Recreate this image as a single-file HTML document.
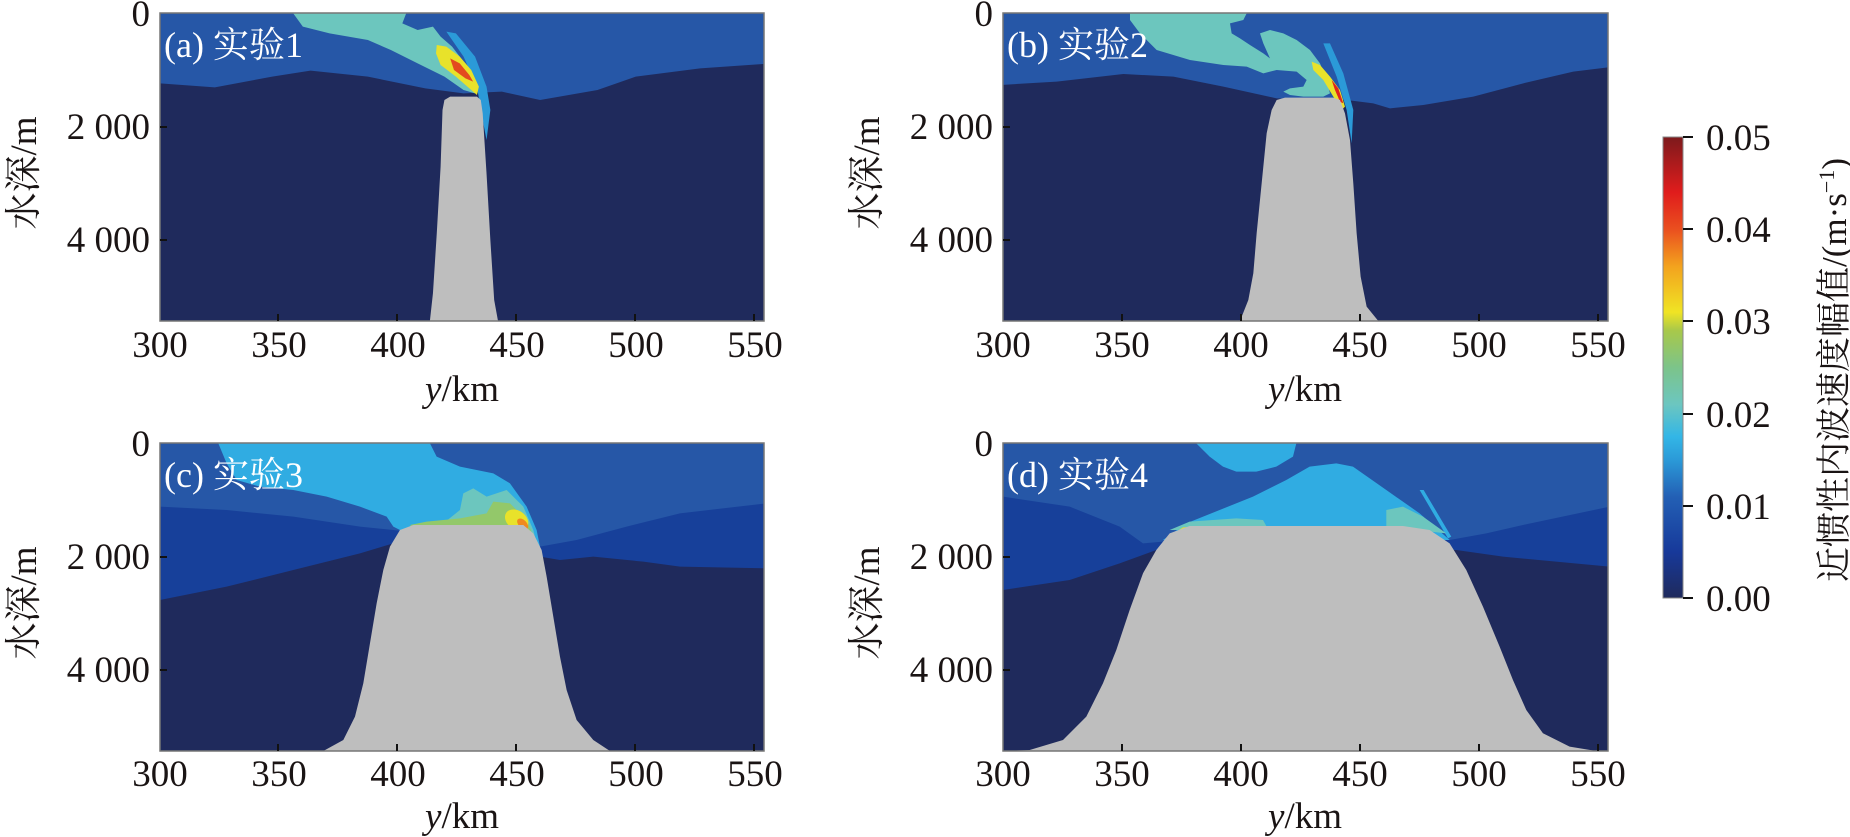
<!DOCTYPE html>
<html><head><meta charset="utf-8">
<style>
html,body{margin:0;padding:0;background:#fff;}
svg{display:block;}
text{font-family:"Liberation Serif","Noto Serif CJK SC","Noto Sans CJK SC",serif;fill:#1a1414;}
.t{font-size:37px;}
.lab{font-size:36px;fill:#fff;}
</style></head>
<body>
<svg width="1850" height="837" viewBox="0 0 1850 837" xmlns="http://www.w3.org/2000/svg">
<defs>
<linearGradient id="cb" x1="0" y1="1" x2="0" y2="0">
<stop offset="0" stop-color="#1f2a5c"/>
<stop offset="0.1" stop-color="#17399a"/>
<stop offset="0.22" stop-color="#2360b5"/>
<stop offset="0.3" stop-color="#2b9ad8"/>
<stop offset="0.35" stop-color="#33b6e6"/>
<stop offset="0.42" stop-color="#6cc6c0"/>
<stop offset="0.5" stop-color="#7cc48a"/>
<stop offset="0.58" stop-color="#a8c84a"/>
<stop offset="0.62" stop-color="#f0e424"/>
<stop offset="0.72" stop-color="#f3a21e"/>
<stop offset="0.8" stop-color="#ea4f1f"/>
<stop offset="0.88" stop-color="#e01c1c"/>
<stop offset="1" stop-color="#7d1a1c"/>
</linearGradient>
<clipPath id="ca"><rect x="160" y="13" width="604" height="308"/></clipPath>
<clipPath id="cbp"><rect x="1003" y="13" width="605" height="308"/></clipPath>
<clipPath id="cc"><rect x="160" y="443" width="604" height="308"/></clipPath>
<clipPath id="cd"><rect x="1003" y="443" width="605" height="308"/></clipPath>
</defs>

<!-- Panel a -->
<g clip-path="url(#ca)">
<rect x="160" y="13" width="604" height="308" fill="#1f2a5c"/>
<g transform="translate(100,0) scale(0.3827,0.3333)">
<polygon fill="#2657a7" points="157,0 1800,0 1800,190 1735,192 1568,205 1400,230 1300,270 1150,300 1050,275 950,280 850,265 700,230 550,212 450,230 300,262 157,250"/>
<polygon fill="#6cc6be" points="505,40 800,40 790,70 830,90 870,80 890,110 920,140 960,200 990,260 980,280 950,270 900,230 830,190 760,150 700,120 600,100 530,80"/>
<polygon fill="#2b9ad8" points="905,95 930,100 980,170 1010,260 1020,330 1010,420 995,330 985,260 950,170"/>
<polygon fill="#e8e22a" points="880,135 905,140 940,170 970,210 990,260 985,285 960,260 930,230 890,195 878,160"/>
<polygon fill="#e34b1f" points="915,175 940,190 965,225 975,245 955,235 925,210"/>
<polygon fill="#bebebe" points="862,963 870,880 880,700 890,500 895,330 900,300 915,290 985,290 995,300 1000,340 1010,520 1020,720 1030,900 1040,963"/>
</g>
</g>

<!-- Panel b -->
<g clip-path="url(#cbp)">
<rect x="1003" y="13" width="605" height="308" fill="#1f2a5c"/>
<g transform="translate(1090,0) scale(0.3333)">
<polygon fill="#2657a7" points="-270,0 1570,0 1570,200 1450,215 1300,250 1150,290 1000,315 900,325 850,310 770,300 560,295 400,260 250,230 100,222 -100,245 -270,255"/>
<polygon fill="#6cc6be" points="120,40 470,40 460,60 420,70 425,100 450,115 480,135 520,160 540,175 520,130 510,100 540,90 580,100 620,120 660,150 690,190 710,240 720,280 700,290 640,290 600,285 580,275 600,265 640,260 650,240 620,215 560,210 520,220 470,200 400,195 300,180 200,150 150,100 120,60"/>
<polygon fill="#2b9ad8" points="700,130 720,130 760,220 790,330 785,430 770,330 740,230"/>
<polygon fill="#e8e22a" points="665,185 690,195 720,230 750,270 765,320 755,330 730,290 700,240 670,210"/>
<polygon fill="#e0231c" points="725,240 745,265 760,310 750,305 735,270"/>
<polygon fill="#bebebe" points="450,963 475,900 490,820 500,700 515,550 530,400 545,330 560,300 585,293 730,293 750,300 765,340 780,420 790,550 800,700 812,830 830,920 865,963"/>
</g>
</g>

<!-- Panel c -->
<g clip-path="url(#cc)">
<rect x="160" y="443" width="604" height="308" fill="#1f2a5c"/>
<g transform="translate(160,430) scale(0.3333)">
<polygon fill="#17409a" points="0,0 1820,0 1820,415 1560,410 1450,395 1300,380 1200,390 1140,380 700,340 600,370 400,420 200,470 0,510"/>
<polygon fill="#2657a7" points="0,0 1820,0 1820,220 1560,250 1400,290 1250,330 1140,350 700,300 600,290 400,260 200,240 0,230"/>
<polygon fill="#30ace2" points="175,40 810,40 830,80 900,110 1000,130 1050,160 1100,230 1130,300 1140,350 720,300 700,290 680,260 600,230 500,200 400,180 300,170 230,150 200,100"/>
<polygon fill="#6cc6be" points="760,290 850,280 900,240 910,190 940,175 980,200 1040,180 1090,230 1120,300 1130,340 1100,300"/>
<polygon fill="#93c86a" points="750,285 800,275 900,265 980,250 1000,215 1050,220 1100,270 1125,330 1100,300 1000,285 900,285 760,293"/>
<ellipse cx="1070" cy="270" rx="38" ry="28" fill="#e8e22a" transform="rotate(35 1070 270)"/>
<ellipse cx="1088" cy="282" rx="20" ry="12" fill="#f08a1e" transform="rotate(45 1088 282)"/>
<polygon fill="#bebebe" points="490,963 550,930 585,860 610,760 630,640 650,520 670,420 690,350 720,300 760,285 1090,285 1120,310 1145,360 1160,440 1180,560 1200,680 1220,780 1250,870 1300,930 1350,963"/>
</g>
</g>

<!-- Panel d -->
<g clip-path="url(#cd)">
<rect x="1003" y="443" width="605" height="308" fill="#1f2a5c"/>
<g transform="translate(1003,430) scale(0.3333)">
<polygon fill="#17409a" points="0,0 1820,0 1820,410 1500,380 1360,360 460,360 350,400 200,450 0,480"/>
<polygon fill="#2657a7" points="0,0 1820,0 1820,230 1560,285 1450,310 1340,330 480,335 420,340 350,290 200,230 0,200"/>
<polygon fill="#30ace2" points="580,40 880,40 870,80 820,110 760,125 700,125 660,110 620,80"/>
<polygon fill="#30ace2" points="480,330 550,280 650,240 750,200 850,150 920,110 1000,100 1050,110 1150,180 1250,250 1340,330"/>
<polygon fill="#30ace2" points="1250,180 1262,180 1345,320 1335,325"/>
<polygon fill="#6cc6be" points="500,300 560,275 700,265 780,270 790,288 520,300"/>
<polygon fill="#6cc6be" points="1150,240 1200,230 1260,260 1330,310 1150,290"/>
<polygon fill="#e8e22a" points="500,318 540,292 600,288 540,298"/>
<polygon fill="#bebebe" points="0,963 80,960 180,930 250,860 300,760 340,660 380,540 420,430 460,360 500,310 560,288 1200,288 1280,300 1340,340 1390,420 1440,530 1490,650 1530,750 1570,840 1620,910 1700,950 1780,963 1830,963"/>
</g>
</g>

<!-- Frames and ticks -->
<g fill="none" stroke="#777" stroke-width="1.5">
<rect x="160" y="13" width="604" height="308"/>
<rect x="1003" y="13" width="605" height="308"/>
<rect x="160" y="443" width="604" height="308"/>
<rect x="1003" y="443" width="605" height="308"/>
</g>
<g stroke="#111" stroke-width="2">
<!-- a -->
<path d="M278,321v-7M397,321v-7M516,321v-7M635,321v-7M754,321v-7M160,127h7M160,240h7"/>
<path d="M1122,321v-7M1241,321v-7M1360,321v-7M1479,321v-7M1598,321v-7M1003,127h7M1003,240h7"/>
<path d="M278,751v-7M397,751v-7M516,751v-7M635,751v-7M754,751v-7M160,557h7M160,670h7"/>
<path d="M1122,751v-7M1241,751v-7M1360,751v-7M1479,751v-7M1598,751v-7M1003,557h7M1003,670h7"/>
</g>

<!-- Tick labels -->
<g class="t" text-anchor="end">
<text x="150" y="26" class="t">0</text><text x="150" y="139" class="t">2 000</text><text x="150" y="252" class="t">4 000</text>
<text x="993" y="26" class="t">0</text><text x="993" y="139" class="t">2 000</text><text x="993" y="252" class="t">4 000</text>
<text x="150" y="456" class="t">0</text><text x="150" y="569" class="t">2 000</text><text x="150" y="682" class="t">4 000</text>
<text x="993" y="456" class="t">0</text><text x="993" y="569" class="t">2 000</text><text x="993" y="682" class="t">4 000</text>
</g>
<g text-anchor="middle">
<text class="t" x="160" y="357">300</text><text class="t" x="279" y="357">350</text><text class="t" x="398" y="357">400</text><text class="t" x="517" y="357">450</text><text class="t" x="636" y="357">500</text><text class="t" x="755" y="357">550</text>
<text class="t" x="1003" y="357">300</text><text class="t" x="1122" y="357">350</text><text class="t" x="1241" y="357">400</text><text class="t" x="1360" y="357">450</text><text class="t" x="1479" y="357">500</text><text class="t" x="1598" y="357">550</text>
<text class="t" x="160" y="786">300</text><text class="t" x="279" y="786">350</text><text class="t" x="398" y="786">400</text><text class="t" x="517" y="786">450</text><text class="t" x="636" y="786">500</text><text class="t" x="755" y="786">550</text>
<text class="t" x="1003" y="786">300</text><text class="t" x="1122" y="786">350</text><text class="t" x="1241" y="786">400</text><text class="t" x="1360" y="786">450</text><text class="t" x="1479" y="786">500</text><text class="t" x="1598" y="786">550</text>
<text class="t" x="462" y="401"><tspan font-style="italic">y</tspan>/km</text>
<text class="t" x="1305" y="401"><tspan font-style="italic">y</tspan>/km</text>
<text class="t" x="462" y="828"><tspan font-style="italic">y</tspan>/km</text>
<text class="t" x="1305" y="828"><tspan font-style="italic">y</tspan>/km</text>
<text class="t" transform="translate(36,173) rotate(-90)">水深/m</text>
<text class="t" transform="translate(879,173) rotate(-90)">水深/m</text>
<text class="t" transform="translate(36,603) rotate(-90)">水深/m</text>
<text class="t" transform="translate(879,603) rotate(-90)">水深/m</text>
</g>

<!-- Panel labels -->
<text class="lab" x="164" y="57">(a) 实验1</text>
<text class="lab" x="1007" y="57">(b) 实验2</text>
<text class="lab" x="164" y="487">(c) 实验3</text>
<text class="lab" x="1007" y="487">(d) 实验4</text>

<!-- Colorbar -->
<rect x="1663" y="137" width="20" height="461" fill="url(#cb)" stroke="#888" stroke-width="1"/>
<g stroke="#111" stroke-width="2">
<path d="M1683,137h10M1683,229h10M1683,321h10M1683,414h10M1683,506h10M1683,598h10"/>
</g>
<g class="t">
<text class="t" x="1706" y="150">0.05</text>
<text class="t" x="1706" y="242">0.04</text>
<text class="t" x="1706" y="334">0.03</text>
<text class="t" x="1706" y="427">0.02</text>
<text class="t" x="1706" y="519">0.01</text>
<text class="t" x="1706" y="611">0.00</text>
</g>
<text class="t" text-anchor="middle" transform="translate(1846,370) rotate(-90)" style="font-size:35px">近惯性内波速度幅值/(m·s<tspan dy="-12" style="font-size:22px">−1</tspan><tspan dy="12">)</tspan></text>
</svg>
</body></html>
